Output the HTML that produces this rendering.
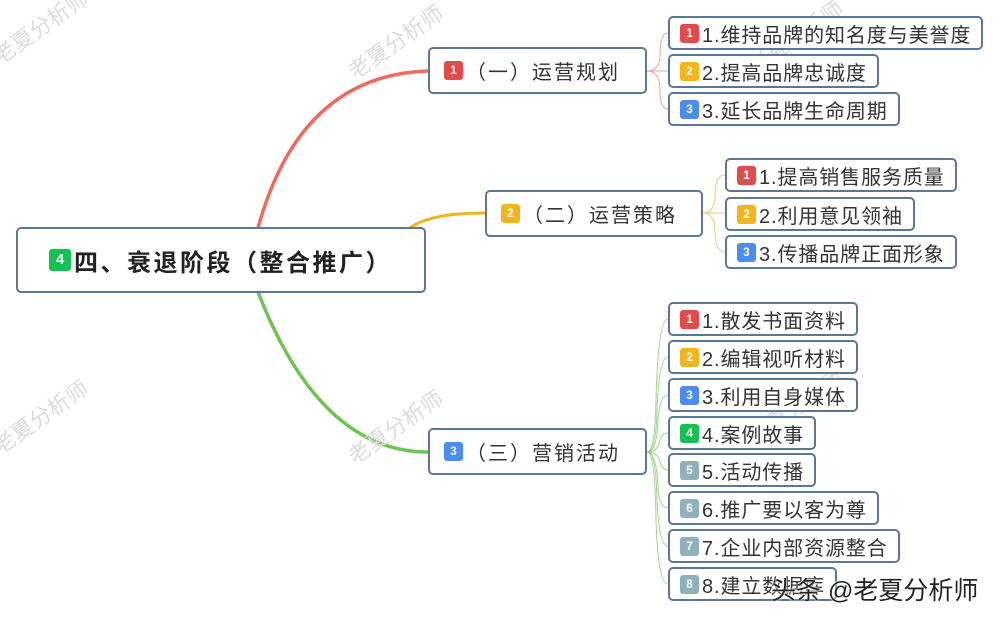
<!DOCTYPE html>
<html><head><meta charset="utf-8"><style>
body{margin:0;width:1000px;height:619px;background:#fff;position:relative;overflow:hidden;font-family:"Liberation Sans","Noto Sans CJK SC",sans-serif;}
.n{position:absolute;box-sizing:border-box;border:2px solid #5a7796;border-radius:5px;background:#fff;color:#333;display:flex;align-items:center;white-space:nowrap;}
.l{font-size:20px;letter-spacing:0.9px;padding-left:10px;height:34px;}
.b{display:inline-block;width:19px;height:19px;border-radius:3px;color:#fff;font-size:12px;font-weight:bold;text-align:center;line-height:19px;margin-right:3px;letter-spacing:0;}
.r{background:#e34b4b}.o{background:#f5b41c}.u{background:#4a8cef}.g{background:#15c150}.s{background:#8fb2ba}
.br{font-size:20px;letter-spacing:2px;padding-left:14px;height:47px;}
.wm{position:absolute;color:#dcdcdc;font-size:22px;transform:rotate(-35deg);}
</style></head><body>
<svg width="1000" height="619" style="position:absolute;left:0;top:0">
<path d="M258 228 Q300 75 428 71" stroke="#ee6a5c" stroke-width="3.5" fill="none"/>
<path d="M410 228 Q430 213 485 213" stroke="#f2b21c" stroke-width="3" fill="none"/>
<path d="M258 292 Q320 452 428 452" stroke="#6cc550" stroke-width="3.5" fill="none"/>
<g stroke="#f0a0a0" stroke-width="1" fill="none">
<path d="M647 71 Q660 71 660 55 Q660 33 668 33"/><path d="M647 71 L668 71"/><path d="M647 71 Q660 71 660 90 Q660 109 668 109"/></g>
<g stroke="#f2c870" stroke-width="1" fill="none">
<path d="M703 213 Q715 213 715 195 Q715 175 725 175"/><path d="M703 213 L725 213"/><path d="M703 213 Q715 213 715 232 Q715 252 725 252"/></g>
<g stroke="#9ed48a" stroke-width="1" fill="none">
<path d="M647 452 Q655 452 656 400 Q658 319 668 319"/><path d="M647 452 Q656 452 657 410 Q659 357 668 357"/><path d="M647 452 Q657 452 658 420 Q660 395 668 395"/><path d="M647 452 Q658 452 660 440 Q662 433 668 433"/><path d="M647 452 Q658 452 660 462 Q662 470 668 470"/><path d="M647 452 Q657 452 658 490 Q660 508 668 508"/><path d="M647 452 Q656 452 657 500 Q659 546 668 546"/><path d="M647 452 Q655 452 656 520 Q658 584 668 584"/></g>
</svg>
<div class="wm" style="left:-15px;top:10px">老夏分析师</div>
<div class="wm" style="left:340px;top:25px">老夏分析师</div>
<div class="wm" style="left:-15px;top:400px">老夏分析师</div>
<div class="wm" style="left:340px;top:410px">老夏分析师</div>
<div class="wm" style="left:740px;top:390px">老夏分析师</div>
<div class="wm" style="left:740px;top:20px">老夏分析师</div>

<div class="n" style="left:16px;top:227px;width:410px;height:66px;padding-left:31px;font-size:24px;letter-spacing:2.5px;font-weight:bold;color:#222"><span class="b g" style="width:22px;height:22px;line-height:22px;font-size:15px">4</span>四、衰退阶段（整合推广）</div>

<div class="n br" style="left:428px;top:47px;width:219px"><span class="b r">1</span>（一）运营规划</div>
<div class="n br" style="left:485px;top:190px;width:218px"><span class="b o">2</span>（二）运营策略</div>
<div class="n br" style="left:428px;top:428px;width:219px"><span class="b u">3</span>（三）营销活动</div>

<div class="n l" style="left:668px;top:16px;width:315px"><span class="b r">1</span>1.维持品牌的知名度与美誉度</div>
<div class="n l" style="left:668px;top:54px;width:211px"><span class="b o">2</span>2.提高品牌忠诚度</div>
<div class="n l" style="left:668px;top:92px;width:232px"><span class="b u">3</span>3.延长品牌生命周期</div>

<div class="n l" style="left:725px;top:158px;width:232px"><span class="b r">1</span>1.提高销售服务质量</div>
<div class="n l" style="left:725px;top:197px;width:190px"><span class="b o">2</span>2.利用意见领袖</div>
<div class="n l" style="left:725px;top:235px;width:232px"><span class="b u">3</span>3.传播品牌正面形象</div>

<div class="n l" style="left:668px;top:302px;width:190px"><span class="b r">1</span>1.散发书面资料</div>
<div class="n l" style="left:668px;top:340px;width:190px"><span class="b o">2</span>2.编辑视听材料</div>
<div class="n l" style="left:668px;top:378px;width:190px"><span class="b u">3</span>3.利用自身媒体</div>
<div class="n l" style="left:668px;top:416px;width:148px"><span class="b g">4</span>4.案例故事</div>
<div class="n l" style="left:668px;top:453px;width:148px"><span class="b s">5</span>5.活动传播</div>
<div class="n l" style="left:668px;top:491px;width:211px"><span class="b s">6</span>6.推广要以客为尊</div>
<div class="n l" style="left:668px;top:529px;width:232px"><span class="b s">7</span>7.企业内部资源整合</div>
<div class="n l" style="left:668px;top:567px;width:169px"><span class="b s">8</span>8.建立数据库</div>
<div style="position:absolute;left:771px;top:571px;font-size:25px;color:#222;text-shadow:0 0 2px #fff,0 0 2px #fff">头条 @老夏分析师</div>
</body></html>
